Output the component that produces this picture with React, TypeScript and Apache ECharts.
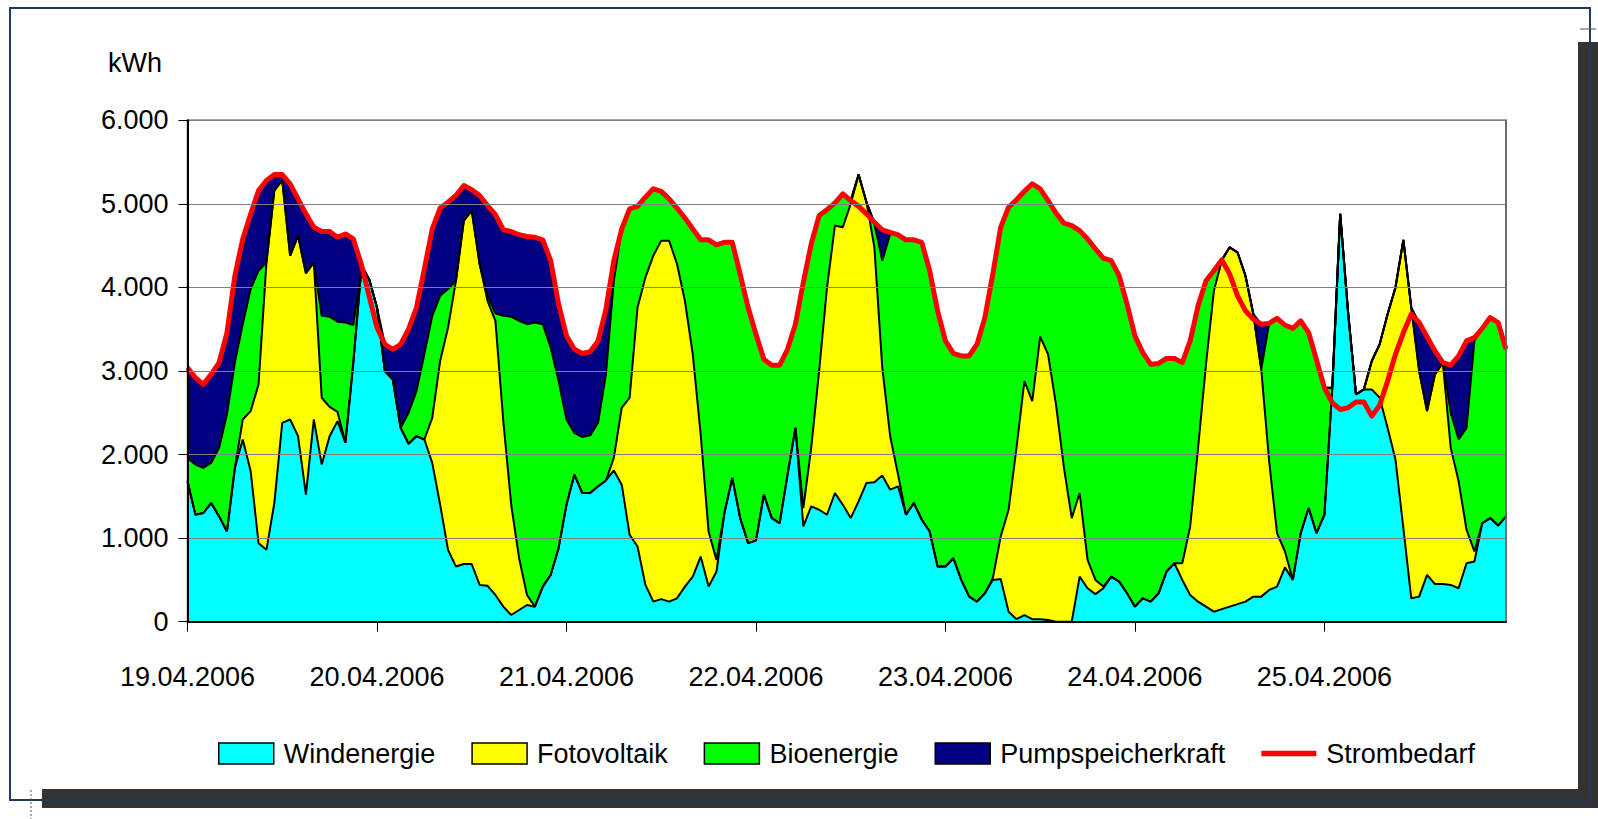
import React, { useEffect, useRef } from "react";
import * as echarts from "echarts";

const dates = ["19.04.2006", "20.04.2006", "21.04.2006", "22.04.2006", "23.04.2006", "24.04.2006", "25.04.2006"];
const hours = ["00", "01", "02", "03", "04", "05", "06", "07", "08", "09", "10", "11", "12", "13", "14", "15", "16", "17", "18", "19", "20", "21", "22", "23"];
const categories = dates.flatMap((d) => hours.map((h) => `${d} ${h}:00`));

const yMin = 0;
const yMax = 6000;
const yStep = 1000;

const windenergie = [
  1680, 1280, 1300, 1420, 1260, 1080, 1840, 2180, 1800, 940, 860, 1420, 2380, 2420, 2220, 1520, 2420, 1880, 2220, 2400, 2140, 3100, 4200, 4100,
  3760, 3000, 2900, 2320, 2130, 2220, 2180, 1900, 1400, 860, 660, 690, 690, 440, 430, 320, 180, 80, 140, 200, 180, 420, 560, 880,
  1400, 1760, 1540, 1540, 1620, 1690, 1810, 1640, 1040, 900, 440, 240, 270, 240, 280, 420, 540, 780, 420, 600, 1300, 1720, 1240, 940,
  970, 1520, 1240, 1180, 1760, 2320, 1140, 1380, 1340, 1280, 1540, 1400, 1240, 1440, 1660, 1670, 1750, 1580, 1620, 1280, 1420, 1220, 1080, 660,
  660, 760, 500, 300, 240, 340, 500, 510, 120, 30, 80, 30, 30, 20, 0, 0, 0, 540, 400, 330, 400, 540, 480, 340,
  180, 280, 240, 340, 600, 700, 500, 320, 240, 180, 120, 150, 180, 210, 240, 300, 300, 380, 420, 650, 500, 1060, 1360, 1060,
  1280, 2800, 4880, 3700, 2720, 2780, 2780, 2680, 2320, 1940, 1120, 280, 300, 560, 450, 450, 440, 400, 700, 720, 1180, 1240, 1150, 1260,
];

const fotovoltaik = [
  0, 0, 0, 0, 0, 0, 0, 240, 720, 1900, 3440, 3740, 2900, 1960, 2400, 2650, 1880, 800, 350, 110, 0, 0, 0, 0,
  0, 0, 0, 0, 0, 0, 0, 540, 1720, 2660, 3420, 4110, 4230, 3840, 3410, 3280, 2220, 1320, 620, 120, 0, 0, 0, 0,
  0, 0, 0, 0, 0, 0, 150, 920, 1640, 2860, 3680, 4140, 4290, 4320, 4000, 3420, 2660, 1460, 660, 140, 0, 0, 0, 0,
  0, 0, 0, 0, 0, 0, 220, 700, 1660, 2720, 3200, 3320, 3760, 3910, 3360, 2810, 1290, 640, 140, 0, 0, 0, 0, 0,
  0, 0, 0, 0, 0, 0, 20, 510, 1220, 2050, 2800, 2610, 3380, 3180, 2600, 1850, 1240, 1000, 340, 170, 20, 0, 0, 0,
  0, 0, 0, 0, 0, 0, 200, 820, 1840, 2900, 3840, 4170, 4300, 4210, 3900, 3380, 2720, 1540, 640, 190, 0, 0, 0, 0,
  0, 0, 0, 0, 0, 0, 340, 640, 1360, 2060, 3450, 3480, 2700, 1960, 2510, 2650, 1640, 1280, 400, 120, 0, 0, 0, 0,
];

const bioenergie = [
  280, 600, 540, 480, 820, 1400, 1260, 1140, 1460, 1360, 0, 0, 0, 0, 0, 0, 0, 980, 1080, 1080, 1440, 450, 0, 0,
  0, 0, 0, 0, 370, 540, 1020, 1220, 780, 460, 0, 0, 0, 0, 60, 90, 1260, 2250, 2840, 3240, 3400, 3140, 2720, 2000,
  1020, 500, 670, 690, 760, 1270, 2120, 2140, 2260, 1210, 960, 800, 590, 500, 670, 990, 1500, 2330, 3490, 3770, 3240, 2820, 2920, 2820,
  2470, 1620, 1830, 1890, 1500, 1240, 2700, 2440, 1860, 930, 270, 400, 40, 0, 0, 280, 1280, 2420, 2870, 3290, 3150, 3320, 3120, 3060,
  2700, 2450, 2680, 2880, 3080, 3300, 3640, 3700, 3620, 2970, 2270, 2600, 1770, 1840, 2290, 2920, 3500, 3140, 3840, 3960, 3930, 3780, 3660, 3460,
  3240, 2940, 2840, 2750, 2550, 2450, 2400, 2220, 1700, 1000, 240, 10, 0, 0, 0, 0, 0, 1650, 2570, 2710, 3010, 2540, 2100, 2070,
  1520, 0, 0, 0, 0, 0, 0, 0, 0, 0, 0, 0, 0, 0, 0, 0, 420, 500, 1220, 2520, 2330, 2400, 2430, 2000,
];

const pumpspeicherkraft = [
  1080, 1040, 1000, 1060, 1020, 980, 1040, 1020, 900, 960, 980, 190, 70, 860, 440, 710, 420, 1010, 1020, 1010, 1060, 1030, 80, 0,
  0, 320, 360, 1000, 1000, 1000, 1020, 1040, 1050, 1040, 1020, 420, 250, 820, 1080, 1180, 1030, 1020, 1030, 1050, 1020, 1010, 1040, 920,
  1000, 1000, 1000, 1000, 980, 780, 240, 0, 0, 0, 0, 0, 0, 0, 0, 0, 0, 0, 0, 0, 0, 0, 0, 0,
  0, 0, 0, 0, 0, 0, 0, 0, 0, 0, 0, 0, 0, 0, 0, 20, 370, 20, 0, 0, 0, 0, 0, 0,
  0, 0, 0, 0, 0, 0, 0, 0, 0, 0, 0, 0, 0, 0, 0, 0, 0, 0, 0, 0, 0, 0, 0, 0,
  0, 0, 0, 0, 0, 0, 0, 0, 0, 0, 0, 0, 0, 0, 0, 0, 540, 0, 0, 0, 0, 0, 0, 0,
  0, 0, 0, 0, 0, 0, 0, 0, 0, 0, 0, 0, 580, 890, 280, 0, 570, 1000, 1040, 40, 0, 0, 0, 0,
];

const strombedarf = [
  3040, 2920, 2840, 2960, 3100, 3460, 4140, 4580, 4880, 5160, 5280, 5350, 5350, 5240, 5060, 4880, 4720, 4670, 4670, 4600, 4640, 4580, 4280, 3900,
  3520, 3320, 3260, 3320, 3500, 3760, 4220, 4700, 4950, 5020, 5100, 5220, 5170, 5100, 4980, 4870, 4690, 4670, 4630, 4610, 4600, 4570, 4320, 3800,
  3420, 3260, 3210, 3230, 3360, 3740, 4320, 4700, 4940, 4970, 5080, 5180, 5150, 5060, 4950, 4830, 4700, 4570, 4570, 4510, 4540, 4540, 4160, 3760,
  3440, 3140, 3070, 3070, 3260, 3560, 4060, 4520, 4860, 4930, 5010, 5120, 5040, 4970, 4880, 4780, 4690, 4660, 4630, 4570, 4570, 4540, 4200, 3720,
  3360, 3210, 3180, 3180, 3320, 3640, 4160, 4720, 4960, 5050, 5150, 5240, 5180, 5040, 4890, 4770, 4740, 4680, 4580, 4460, 4350, 4320, 4140, 3800,
  3420, 3220, 3080, 3090, 3150, 3150, 3100, 3360, 3780, 4080, 4200, 4330, 4160, 3900, 3720, 3620, 3560, 3570, 3630, 3550, 3510, 3600, 3460, 3130,
  2800, 2620, 2540, 2560, 2630, 2630, 2460, 2590, 2880, 3200, 3460, 3680, 3580, 3410, 3240, 3100, 3070, 3180, 3360, 3400, 3510, 3640, 3580, 3260,
];

const seriesNames = ["Windenergie", "Fotovoltaik", "Bioenergie", "Pumpspeicherkraft", "Strombedarf"];
const seriesColors = ["#00FFFF", "#FFFF00", "#00FF00", "#000080", "#FF0000"];

const FONT = "'Liberation Sans', Arial, sans-serif";

export default function App() {
  const ref = useRef<HTMLDivElement>(null);

  useEffect(() => {
    if (!ref.current) return;
    const chart = echarts.init(ref.current, undefined, { renderer: "svg" });
    const stacks = [windenergie, fotovoltaik, bioenergie, pumpspeicherkraft];

    const areaSeries = stacks.map((data, k) => ({
      name: seriesNames[k],
      type: "line",
      stack: "total",
      data,
      symbol: "none",
      color: seriesColors[k],
      lineStyle: { width: 0, opacity: 0 },
      areaStyle: { color: seriesColors[k], opacity: 1 },
      emphasis: { disabled: true },
      silent: true,
      z: 2,
    }));

    const outlineSeries = stacks.map((data, k) => ({
      name: seriesNames[k] + " Kontur",
      type: "line",
      stack: "outline",
      data,
      symbol: "none",
      color: "#000",
      lineStyle: { color: "#000", width: 2 },
      emphasis: { disabled: true },
      silent: true,
      z: 3,
    }));

    const option: any = {
      animation: false,
      backgroundColor: "#ffffff",
      textStyle: { fontFamily: FONT },
      grid: {
        left: 187.5,
        right: 92,
        top: 120.3,
        bottom: 197.3,
        show: true,
        borderColor: "#555",
        borderWidth: 1.5,
        backgroundColor: "transparent",
      },
      graphic: [
        { type: "rect", silent: true, shape: { x: 1578, y: 42, width: 20, height: 766 }, style: { fill: "#333333" } },
        { type: "rect", silent: true, shape: { x: 42, y: 789, width: 1556, height: 19 }, style: { fill: "#333333" } },
        { type: "rect", silent: true, shape: { x: 10, y: 8, width: 1580, height: 792 }, style: { fill: "none", stroke: "#1f3a60", lineWidth: 2 } },
        { type: "line", silent: true, shape: { x1: 31, y1: 790, x2: 31, y2: 819 }, style: { stroke: "#555", lineWidth: 1, lineDash: [2, 2] } },
        { type: "line", silent: true, shape: { x1: 1580, y1: 29, x2: 1596, y2: 29 }, style: { stroke: "#555", lineWidth: 1 } },
        {
          type: "text",
          silent: true,
          x: 108,
          y: 63,
          style: { text: "kWh", fontSize: 27, fontFamily: FONT, fill: "#000", verticalAlign: "middle" },
        },
      ],
      legend: {
        left: 213,
        top: 735,
        itemWidth: 55,
        itemHeight: 21,
        itemGap: 36,
        selectedMode: false,
        symbolKeepAspect: true,
        textStyle: { fontSize: 27, fontFamily: FONT, color: "#000", padding: [0, 0, 0, 5] },
        itemStyle: { borderColor: "#000", borderWidth: 1.5 },
        data: [
          { name: seriesNames[0], icon: "rect", itemStyle: { color: seriesColors[0] } },
          { name: seriesNames[1], icon: "rect", itemStyle: { color: seriesColors[1] } },
          { name: seriesNames[2], icon: "rect", itemStyle: { color: seriesColors[2] } },
          { name: seriesNames[3], icon: "rect", itemStyle: { color: seriesColors[3] } },
          { name: seriesNames[4], icon: "path://M0,0H60V6H0Z", itemStyle: { color: seriesColors[4], borderWidth: 0 } },
        ],
      },
      xAxis: {
        type: "category",
        data: categories,
        boundaryGap: false,
        z: 5,
        axisLine: { show: true, lineStyle: { color: "#000", width: 2 } },
        axisTick: { show: true, interval: 23, length: 10, lineStyle: { color: "#000", width: 1 } },
        axisLabel: {
          interval: 23,
          formatter: (v: string) => v.split(" ")[0],
          fontSize: 27,
          fontFamily: FONT,
          color: "#000",
          margin: 42,
        },
        splitLine: { show: false },
      },
      yAxis: [
        {
          type: "value",
          min: yMin,
          max: yMax,
          interval: yStep,
          z: 5,
          axisLine: { show: true, lineStyle: { color: "#000", width: 2 } },
          axisTick: { show: true, length: 9, lineStyle: { color: "#000", width: 1 } },
          axisLabel: {
            formatter: (v: number) => (v === 0 ? "0" : `${v / 1000}.000`),
            fontSize: 27,
            fontFamily: FONT,
            color: "#000",
            margin: 19,
          },
          splitLine: { show: true, lineStyle: { color: "#808080", width: 1 } },
        },
        {
          type: "value",
          min: yMin,
          max: yMax,
          interval: yStep,
          position: "right",
          z: 5,
          axisLine: { show: true, lineStyle: { color: "#666", width: 1.5 } },
          axisTick: { show: false },
          axisLabel: { show: false },
          splitLine: { show: false },
        },
      ],
      series: [
        ...areaSeries,
        ...outlineSeries,
        {
          name: seriesNames[4],
          type: "line",
          data: strombedarf,
          symbol: "none",
          color: seriesColors[4],
          lineStyle: { color: seriesColors[4], width: 5, join: "round" },
          emphasis: { disabled: true },
          silent: true,
          z: 4,
        },
      ],
    };

    chart.setOption(option);
    return () => {
      chart.dispose();
    };
  }, []);

  return (
    <div
      ref={ref}
      style={{ position: "fixed", left: 0, top: 0, width: 1598, height: 819, background: "#fff" }}
    />
  );
}
